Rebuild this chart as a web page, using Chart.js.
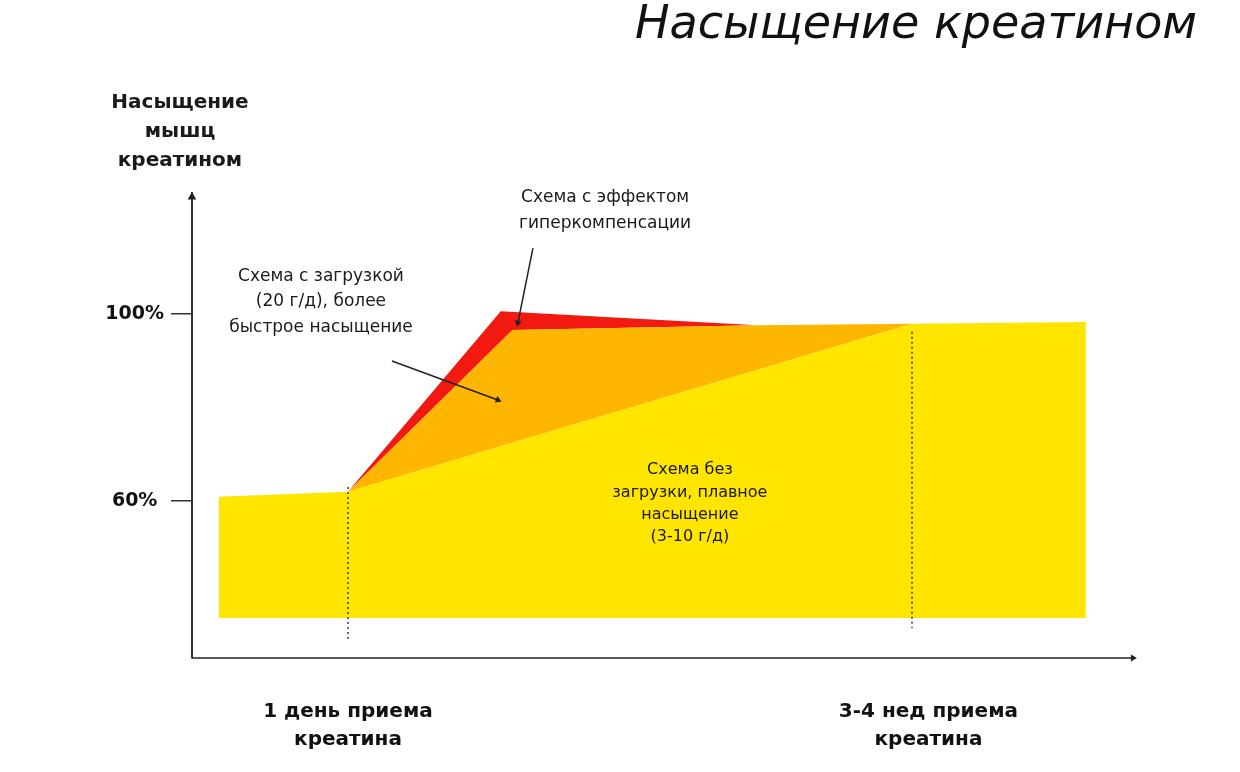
<!DOCTYPE html>
<html>
<head>
<meta charset="utf-8">
<script src="https://cdn.jsdelivr.net/npm/chart.js@4"></script>
<style>
  body { margin: 0; background: #fff; }
  #wrap { width: 1240px; height: 772px; }
</style>
</head>
<body>
<div id="wrap"><canvas id="creatine-chart"></canvas></div>
<script>
// x in days of intake, y in % of muscle creatine saturation
const noLoadX = [-4.5, 1, 25, 32.4];
const noLoadY = [60.9, 62.0, 97.9, 98.3];
const loadX = [1, 8.0, 18.4, 25];
const loadY = [62.0, 96.6, 97.6, 97.9];
const hyperX = [1, 7.5, 18.4];
const hyperY = [62.0, 100.6, 97.6];
const baseLevel = 35;

const dayMarks = [1, 25];
const dayMarkTop = [63.0, 96.2];
const dayMarkBottom = [30.3, 32.8];

const yTickValues = [60, 100];
const xTickValues = [1, 25.7];
const xTickLabels = [['1 день приема', 'креатина'], ['3-4 нед приема', 'креатина']];

const X_MIN = -5.638, X_MAX = 37.128, Y_MIN = 26.42, Y_MAX = 125.88;

function pts(xs, ys){
    return xs.map((x, i) => ({x: x, y: ys[i]}));
}

// callout texts, anchored in data units
const notes = [
    {x: -6.15, y: [145.1, 138.9, 132.7], lines: ['Насыщение', 'мышц', 'креатином'], font: 'bold 20px "DejaVu Sans"'},
    {x: 11.94, y: [124.8, 119.25], lines: ['Схема с эффектом', 'гиперкомпенсации'], font: '17px "DejaVu Sans"'},
    {x: -0.15, y: [107.9, 102.6, 97.2], lines: ['Схема с загрузкой', '(20 г/д), более', 'быстрое насыщение'], font: '17px "DejaVu Sans"'},
    {x: 15.55, y: [66.6, 61.7, 57.0, 52.3], lines: ['Схема без', 'загрузки, плавное', 'насыщение', '(3-10 г/д)'], font: '16px "DejaVu Sans"'}
];

const notesPlugin = {
    id: 'notes',
    afterDraw(chart){
        const ctx = chart.ctx;
        const sx = chart.scales.x, sy = chart.scales.y;
        ctx.save();
        ctx.fillStyle = '#1a1a1a';
        ctx.textAlign = 'center';
        ctx.textBaseline = 'middle';
        notes.forEach(n => {
            ctx.font = n.font;
            n.lines.forEach((t, i) => {
                ctx.fillText(t, sx.getPixelForValue(n.x), sy.getPixelForValue(n.y[i]));
            });
        });
        ctx.restore();
    }
};

function arrowLine(data, rotation){
    return {
        data: data,
        borderColor: '#222',
        backgroundColor: '#222',
        borderWidth: 1.5,
        pointStyle: 'triangle',
        pointRadius: [0, 4],
        pointRotation: rotation,
        pointBorderWidth: 0,
        clip: false,
        order: 0
    };
}

window.onload = () => {
    const context = document.getElementById('creatine-chart').getContext('2d');
    new Chart(context, {
        type: 'line',
        data: {
            datasets: [
                {
                    data: pts(noLoadX, noLoadY),
                    backgroundColor: '#FFE500',
                    borderWidth: 0,
                    pointRadius: 0,
                    fill: {value: baseLevel},
                    order: 10
                },
                {
                    data: pts(loadX, loadY),
                    backgroundColor: '#FFB600',
                    borderWidth: 0,
                    pointRadius: 0,
                    fill: 0,
                    order: 10
                },
                {
                    data: pts(hyperX, hyperY),
                    backgroundColor: '#F21A10',
                    borderWidth: 0,
                    pointRadius: 0,
                    fill: 1,
                    order: 10
                },
                {
                    data: [{x: dayMarks[0], y: dayMarkTop[0]}, {x: dayMarks[0], y: dayMarkBottom[0]}],
                    borderColor: '#333a44',
                    borderWidth: 1.5,
                    borderDash: [2, 3],
                    pointRadius: 0,
                    order: 0
                },
                {
                    data: [{x: dayMarks[1], y: dayMarkTop[1]}, {x: dayMarks[1], y: dayMarkBottom[1]}],
                    borderColor: '#333a44',
                    borderWidth: 1.5,
                    borderDash: [2, 3],
                    pointRadius: 0,
                    order: 0
                },
                // x axis with arrow
                arrowLine([{x: X_MIN, y: Y_MIN}, {x: 34.4, y: Y_MIN}], 90),
                // y axis arrow head
                {
                    data: [{x: X_MIN, y: 125.0}],
                    backgroundColor: '#222',
                    pointStyle: 'triangle',
                    pointRadius: 5,
                    pointBorderWidth: 0,
                    showLine: false,
                    clip: false,
                    order: 0
                },
                // callout arrows
                arrowLine([{x: 8.87, y: 114.1}, {x: 8.23, y: 98.1}], 191.3),
                arrowLine([{x: 2.87, y: 89.95}, {x: 7.38, y: 81.6}], 110.2)
            ]
        },
        options: {
            responsive: true,
            maintainAspectRatio: false,
            animation: false,
            layout: {padding: {left: 0, right: 43, top: 0, bottom: 0}},
            elements: {line: {tension: 0}},
            plugins: {
                legend: {display: false},
                tooltip: {enabled: false},
                title: {
                    display: true,
                    text: 'Насыщение креатином',
                    align: 'end',
                    color: '#111',
                    font: {family: 'DejaVu Sans', style: 'italic', weight: 'normal', size: 46, lineHeight: 0.9},
                    padding: {top: 5, bottom: 146.6}
                }
            },
            scales: {
                x: {
                    type: 'linear',
                    min: X_MIN,
                    max: X_MAX,
                    afterBuildTicks: (scale) => { scale.ticks = xTickValues.map(v => ({value: v})); },
                    afterFit: (scale) => { scale.height = 114; },
                    grid: {display: false, drawTicks: false},
                    border: {display: false},
                    ticks: {
                        callback: (value, index) => xTickLabels[index],
                        color: '#111',
                        font: {family: 'DejaVu Sans', weight: 'bold', size: 20, lineHeight: 1.4},
                        padding: 40,
                        maxRotation: 0,
                        autoSkip: false
                    }
                },
                y: {
                    type: 'linear',
                    min: Y_MIN,
                    max: Y_MAX,
                    afterBuildTicks: (scale) => { scale.ticks = yTickValues.map(v => ({value: v})); },
                    afterFit: (scale) => { scale.width = 192; },
                    grid: {display: true, drawOnChartArea: false, drawTicks: true, tickLength: 21, color: '#333', lineWidth: 1.5},
                    border: {display: true, color: '#333', width: 2},
                    ticks: {
                        callback: (value) => value + '%',
                        color: '#111',
                        font: {family: 'DejaVu Sans', weight: 'bold', size: 19},
                        padding: 7,
                        crossAlign: 'center'
                    }
                }
            }
        },
        plugins: [notesPlugin]
    });
};
</script>
</body>
</html>
